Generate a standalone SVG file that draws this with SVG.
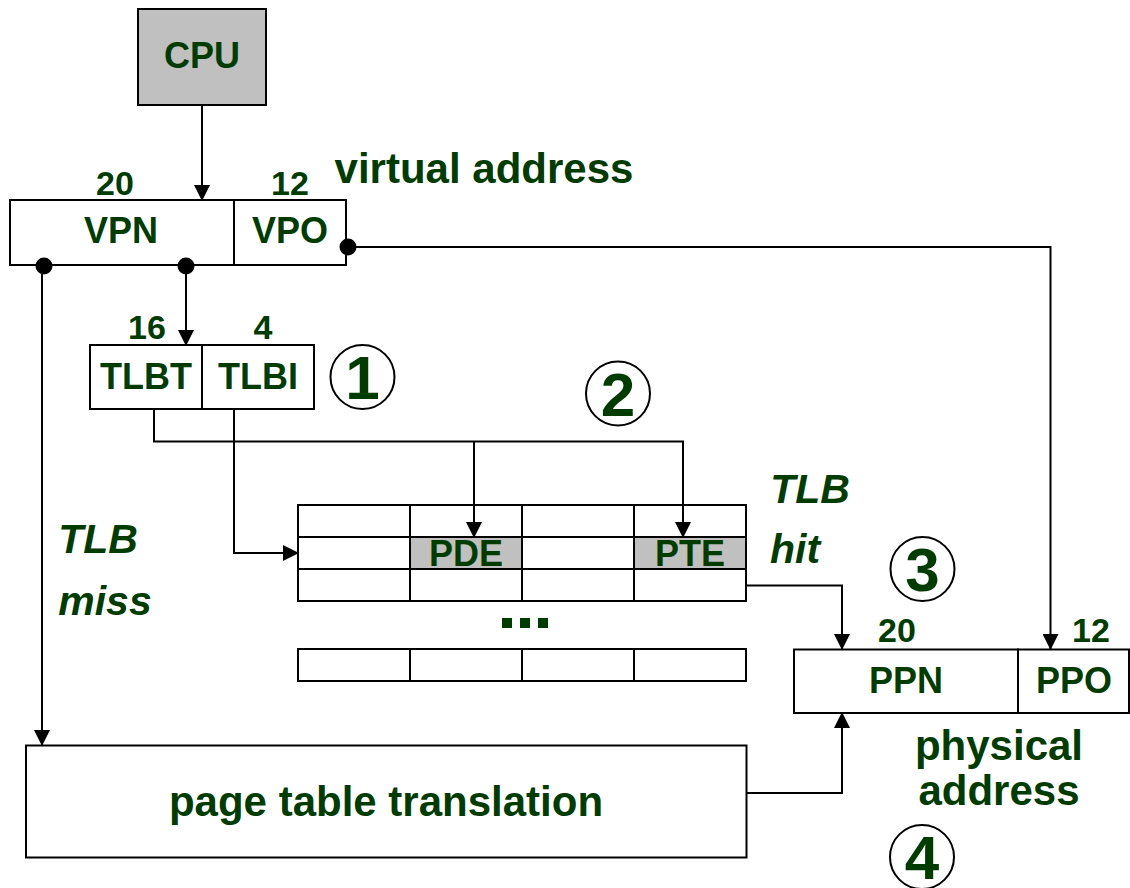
<svg xmlns="http://www.w3.org/2000/svg" width="1130" height="888" viewBox="0 0 1130 888">
<defs>
<style>
.box{fill:#fff;stroke:#000;stroke-width:2}
.gray{fill:#c0c0c0;stroke:#000;stroke-width:2}
.ln{fill:none;stroke:#000;stroke-width:2}
.t{font-family:"Liberation Sans",Arial,sans-serif;font-weight:bold;fill:#003c00;text-anchor:middle}
.s{font-size:36px}
.n{font-size:34px}
.b{font-size:42px}
.i{font-size:41px;font-style:italic}
.c{font-size:62px}
.circ{fill:none;stroke:#000;stroke-width:2}
.dot{fill:#000}
</style>
<marker id="ah" markerUnits="userSpaceOnUse" markerWidth="16" markerHeight="16" viewBox="0 0 16 16" refX="15" refY="8" orient="auto">
<path d="M0,0 L16,8 L0,16 Z" fill="#000"/>
</marker>
</defs>
<rect width="1130" height="888" fill="#fff"/>

<g id="cpu">
<rect class="gray" x="138" y="9" width="128" height="96"/>
<text class="t s" x="202" y="68">CPU</text>
</g>

<g id="virtual-address">
<rect class="box" x="10" y="200" width="224" height="65"/>
<rect class="box" x="234" y="200" width="112" height="65"/>
<text class="t s" x="121" y="243">VPN</text>
<text class="t s" x="290" y="243">VPO</text>
<text class="t n" x="115" y="195">20</text>
<text class="t n" x="290" y="195">12</text>
<text class="t b" x="484" y="183">virtual address</text>
</g>

<g id="tlb-index">
<rect class="box" x="90" y="345" width="112" height="64"/>
<rect class="box" x="202" y="345" width="112" height="64"/>
<text class="t s" x="146" y="389">TLBT</text>
<text class="t s" x="258" y="389">TLBI</text>
<text class="t n" x="147" y="339">16</text>
<text class="t n" x="263" y="339">4</text>
</g>

<g id="step1">
<circle class="circ" cx="362.5" cy="377" r="32"/>
<text class="t c" x="362.5" y="399">1</text>
</g>
<g id="step2">
<circle class="circ" cx="618" cy="393.5" r="32"/>
<text class="t c" x="618" y="416">2</text>
</g>
<g id="step3">
<circle class="circ" cx="922.5" cy="569" r="32"/>
<text class="t c" x="922.5" y="591">3</text>
</g>
<g id="step4">
<circle class="circ" cx="922" cy="857" r="32"/>
<text class="t c" x="922" y="879">4</text>
</g>

<g id="tlb">
<rect class="box" x="298" y="505" width="112" height="32"/>
<rect class="box" x="410" y="505" width="112" height="32"/>
<rect class="box" x="522" y="505" width="112" height="32"/>
<rect class="box" x="634" y="505" width="112" height="32"/>
<rect class="box" x="298" y="537" width="112" height="32"/>
<rect class="gray" x="410" y="537" width="112" height="32"/>
<rect class="box" x="522" y="537" width="112" height="32"/>
<rect class="gray" x="634" y="537" width="112" height="32"/>
<rect class="box" x="298" y="569" width="112" height="32"/>
<rect class="box" x="410" y="569" width="112" height="32"/>
<rect class="box" x="522" y="569" width="112" height="32"/>
<rect class="box" x="634" y="569" width="112" height="32"/>
<rect class="box" x="298" y="649" width="112" height="32"/>
<rect class="box" x="410" y="649" width="112" height="32"/>
<rect class="box" x="522" y="649" width="112" height="32"/>
<rect class="box" x="634" y="649" width="112" height="32"/>
<text class="t s" x="466" y="566">PDE</text>
<text class="t s" x="690" y="566">PTE</text>
<rect x="502" y="618" width="10" height="10" fill="#003c00"/>
<rect x="520" y="618" width="10" height="10" fill="#003c00"/>
<rect x="538" y="618" width="10" height="10" fill="#003c00"/>
</g>

<g id="tlb-hit">
<text class="t i" x="810" y="503">TLB</text>
<text class="t i" x="795" y="563">hit</text>
</g>
<g id="tlb-miss">
<text class="t i" x="98" y="553">TLB</text>
<text class="t i" x="105" y="615">miss</text>
</g>

<g id="page-table-translation">
<rect class="box" x="26" y="745.5" width="720.5" height="112"/>
<text class="t b" x="386" y="816">page table translation</text>
</g>

<g id="physical-address">
<rect class="box" x="794" y="649.5" width="224" height="63.5"/>
<rect class="box" x="1018" y="649.5" width="111" height="63.5"/>
<text class="t s" x="906" y="692.5">PPN</text>
<text class="t s" x="1074" y="692.5">PPO</text>
<text class="t n" x="897" y="641.5">20</text>
<text class="t n" x="1091" y="641.5">12</text>
<text class="t b" x="999" y="760">physical</text>
<text class="t b" x="999" y="805">address</text>
</g>

<g id="connectors">
<path class="ln" d="M202,105 V200" marker-end="url(#ah)"/>
<path class="ln" d="M348,247 H1050.5 V649" marker-end="url(#ah)"/>
<path class="ln" d="M42,265 V745" marker-end="url(#ah)"/>
<path class="ln" d="M186,265 V345" marker-end="url(#ah)"/>
<path class="ln" d="M154,409 V441.5 H683 V537" marker-end="url(#ah)"/>
<path class="ln" d="M474,441.5 V537" marker-end="url(#ah)"/>
<path class="ln" d="M234,409 V553 H298" marker-end="url(#ah)"/>
<path class="ln" d="M746,585.5 H842 V649" marker-end="url(#ah)"/>
<path class="ln" d="M746,793 H842 V713" marker-end="url(#ah)"/>
<circle class="dot" cx="348" cy="247" r="8.5"/>
<circle class="dot" cx="44" cy="266" r="8.5"/>
<circle class="dot" cx="186" cy="266" r="8.5"/>
</g>
</svg>
